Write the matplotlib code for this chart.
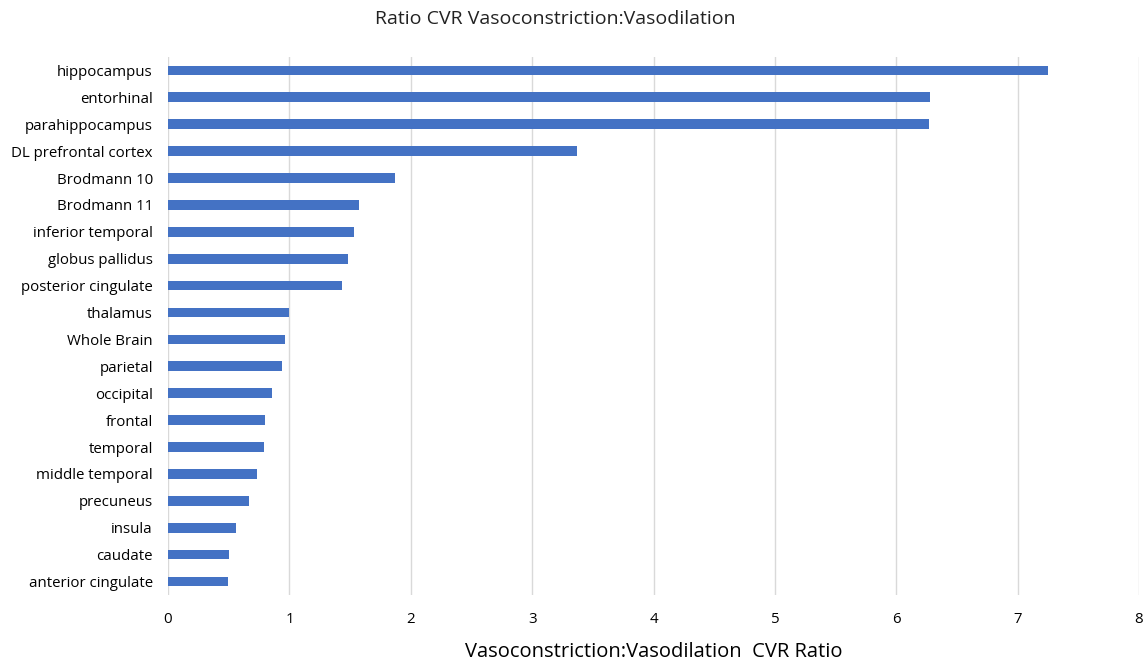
import numpy as np
import matplotlib.pyplot as plt

regions = ["hippocampus", "entorhinal", "parahippocampus", "DL prefrontal cortex",
           "Brodmann 10", "Brodmann 11", "inferior temporal", "globus pallidus",
           "posterior cingulate", "thalamus", "Whole Brain", "parietal", "occipital",
           "frontal", "temporal", "middle temporal", "precuneus", "insula",
           "caudate", "anterior cingulate"]
ratios = [7.25, 6.28, 6.27, 3.37, 1.87, 1.57, 1.53, 1.48, 1.43, 1.00, 0.965,
          0.94, 0.86, 0.80, 0.79, 0.73, 0.67, 0.56, 0.50, 0.49]
xticks = [0, 1, 2, 3, 4, 5, 6, 7, 8]

plt.rcParams['font.family'] = ['Open Sans', 'DejaVu Sans']

fig = plt.figure(figsize=(11.47, 6.65), dpi=100)
ax = fig.add_axes([0.1465, 0.1053, 0.8465, 0.809])

y = np.arange(len(regions))
ax.barh(y, ratios, height=0.36, color="#4472C4", zorder=3)
ax.set_ylim(len(regions) - 0.5, -0.5)
ax.set_xlim(0, 8)
ax.set_xticks(xticks)
ax.set_yticks(y)
ax.set_yticklabels(regions)
ax.grid(axis="x", color="#D9D9D9", linewidth=1, zorder=0)
for s in ax.spines.values():
    s.set_visible(False)
ax.tick_params(axis="both", length=0, labelsize=10.8, colors="#000000")
ax.tick_params(axis="y", pad=11)
ax.tick_params(axis="x", pad=12)

ax.set_xlabel("Vasoconstriction:Vasodilation  CVR Ratio", fontsize=14.5, labelpad=11)
fig.text(0.484, 0.971, "Ratio CVR Vasoconstriction:Vasodilation", ha="center",
         va="center", fontsize=14, color="#222222")

fig.savefig("out.png", dpi=100)
